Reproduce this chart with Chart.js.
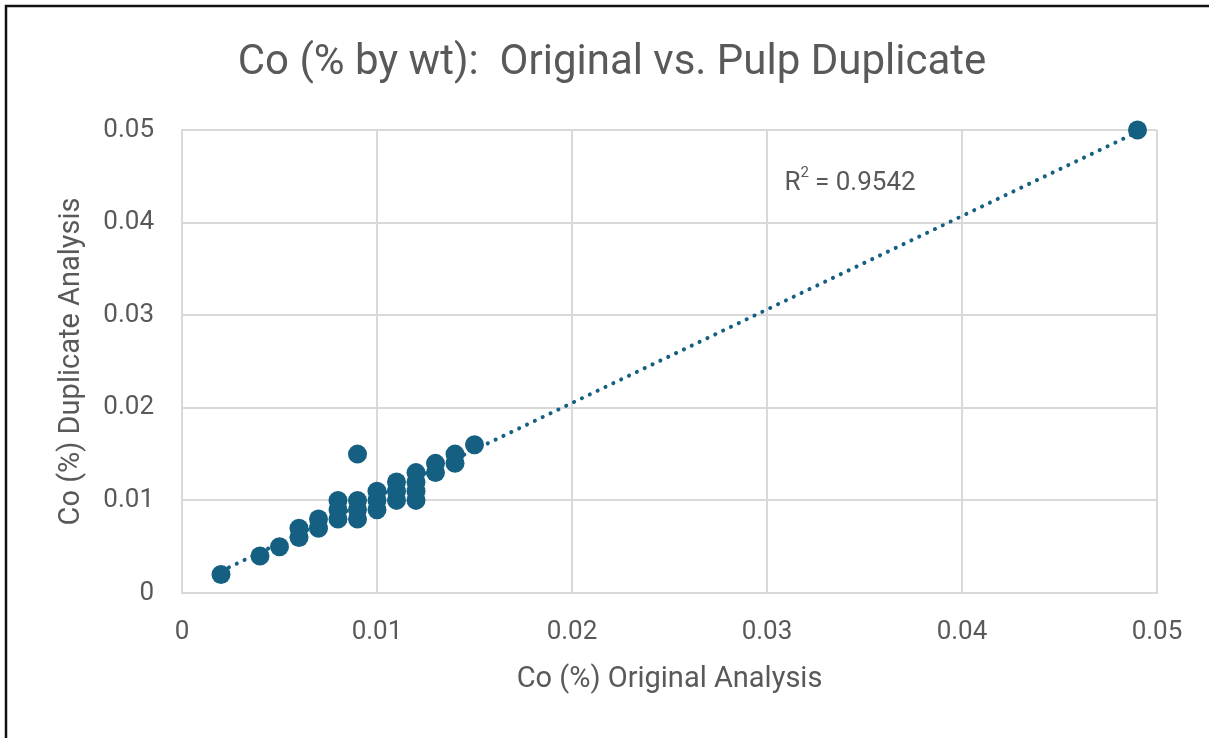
<!DOCTYPE html>
<html>
<head>
<meta charset="utf-8">
<script src="https://cdn.jsdelivr.net/npm/chart.js@4"></script>
<style>
  html, body { margin: 0; padding: 0; background: #ffffff; }
  #wrap { width: 1209px; height: 738px; position: relative; }
</style>
</head>
<body>
<div id="wrap"><canvas id="chart"></canvas></div>
<script>
// Data
const original_values = [0.002, 0.004, 0.005, 0.006, 0.006, 0.007, 0.007, 0.008, 0.008, 0.008,
  0.009, 0.009, 0.009, 0.009, 0.010, 0.010, 0.010, 0.011, 0.011, 0.011,
  0.012, 0.012, 0.012, 0.012, 0.013, 0.013, 0.014, 0.014, 0.015, 0.049];
const duplicate_values = [0.002, 0.004, 0.005, 0.006, 0.007, 0.007, 0.008, 0.008, 0.009, 0.010,
  0.008, 0.009, 0.010, 0.015, 0.009, 0.010, 0.011, 0.010, 0.011, 0.012,
  0.010, 0.011, 0.012, 0.013, 0.013, 0.014, 0.014, 0.015, 0.016, 0.050];
const x_tick_labels = ['0', '0.01', '0.02', '0.03', '0.04', '0.05'];
const y_tick_labels = ['0', '0.01', '0.02', '0.03', '0.04', '0.05'];
const chart_title = 'Co (% by wt):  Original vs. Pulp Duplicate';
const r2_label = '0.9542';

// Colors
const point_color = '#156082';
const text_color = '#595959';
const grid_color = '#d9d9d9';
const font_main = "Roboto, 'Open Sans', sans-serif";

// Linear trendline (least squares, like the spreadsheet's)
function linear_fit(xs, ys) {
    const n = xs.length;
    const mx = xs.reduce((a, b) => a + b, 0) / n;
    const my = ys.reduce((a, b) => a + b, 0) / n;
    let sxy = 0, sxx = 0;
    for (let i = 0; i < n; i++) {
        sxy += (xs[i] - mx) * (ys[i] - my);
        sxx += (xs[i] - mx) * (xs[i] - mx);
    }
    const slope = sxy / sxx;
    return { slope: slope, intercept: my - slope * mx };
}
const fit = linear_fit(original_values, duplicate_values);
const x_min = Math.min(...original_values);
const x_max = Math.max(...original_values);
const trend_points = [x_min, x_max].map(x => ({ x: x, y: fit.intercept + fit.slope * x }));
const scatter_points = original_values.map((x, i) => ({ x: x, y: duplicate_values[i] }));

// Frame, title and R² label
const extras_plugin = {
    id: 'extras',
    beforeDraw(chart) {
        const ctx = chart.ctx;
        ctx.save();
        ctx.fillStyle = '#ffffff';
        ctx.fillRect(0, 0, chart.width, chart.height);
        ctx.restore();
    },
    afterDraw(chart) {
        const ctx = chart.ctx;
        ctx.save();
        ctx.strokeStyle = '#111111';
        ctx.lineWidth = 2.5;
        ctx.beginPath();
        ctx.moveTo(6, chart.height);
        ctx.lineTo(6, 6);
        ctx.lineTo(chart.width, 6);
        ctx.stroke();

        // title
        ctx.fillStyle = text_color;
        ctx.textAlign = 'center';
        ctx.textBaseline = 'middle';
        ctx.font = '42px ' + font_main;
        ctx.fillText(chart_title, 612, 63);

        // R² text placed in data coordinates
        const xs = chart.scales.x, ys = chart.scales.y;
        const px = xs.getPixelForValue(0.0309);
        const py = ys.getPixelForValue(0.0442);
        ctx.textAlign = 'left';
        ctx.font = '26px ' + font_main;
        ctx.fillText('R', px, py);
        const rw = ctx.measureText('R').width;
        ctx.font = '15px ' + font_main;
        ctx.fillText('2', px + rw, py - 10);
        ctx.font = '26px ' + font_main;
        ctx.fillText(' = ' + r2_label, px + rw + 8, py);
        ctx.restore();
    }
};

const chart_canvas = document.getElementById('chart');
let chart = new Chart(chart_canvas, {
    type: 'scatter',
    data: {
        datasets: [
            {
                label: 'Trend',
                type: 'line',
                data: trend_points,
                borderColor: point_color,
                borderWidth: 4,
                borderDash: [0.1, 8.6],
                borderCapStyle: 'round',
                pointRadius: 0,
                fill: false,
                clip: false,
                order: 2,
            },
            {
                label: 'Co',
                data: scatter_points,
                backgroundColor: point_color,
                borderColor: point_color,
                pointRadius: 9.5,
                pointBorderWidth: 0,
                clip: false,
                order: 1,
            },
        ],
    },
    options: {
        animation: false,
        responsive: true,
        maintainAspectRatio: false,
        layout: { padding: { left: 0, right: 52, top: 130, bottom: 39 } },
        plugins: {
            legend: { display: false },
            tooltip: { enabled: false },
            title: { display: false },
        },
        scales: {
            x: {
                type: 'linear',
                min: 0,
                max: 0.05,
                afterFit: (s) => { s.height = 106; },
                ticks: {
                    stepSize: 0.01,
                    color: text_color,
                    padding: 24,
                    maxRotation: 0,
                    font: { family: font_main, size: 26 },
                    callback: (v, i) => x_tick_labels[i],
                },
                grid: { color: grid_color, lineWidth: 2, drawTicks: false },
                border: { color: grid_color, width: 2 },
                title: {
                    display: true,
                    text: 'Co (%) Original Analysis',
                    color: text_color,
                    font: { family: font_main, size: 29, lineHeight: 1.2 },
                    padding: { top: 14, bottom: 2 },
                },
            },
            y: {
                type: 'linear',
                min: 0,
                max: 0.05,
                afterFit: (s) => { s.width = 182; },
                ticks: {
                    stepSize: 0.01,
                    color: text_color,
                    padding: 28,
                    font: { family: font_main, size: 26 },
                    callback: (v, i) => y_tick_labels[i],
                },
                grid: { color: grid_color, lineWidth: 2, drawTicks: false },
                border: { color: grid_color, width: 2 },
                title: {
                    display: true,
                    text: 'Co (%) Duplicate Analysis',
                    color: text_color,
                    font: { family: font_main, size: 29, lineHeight: 1.2 },
                    padding: { top: 54, bottom: 0 },
                },
            },
        },
    },
    plugins: [extras_plugin],
});
</script>
</body>
</html>
